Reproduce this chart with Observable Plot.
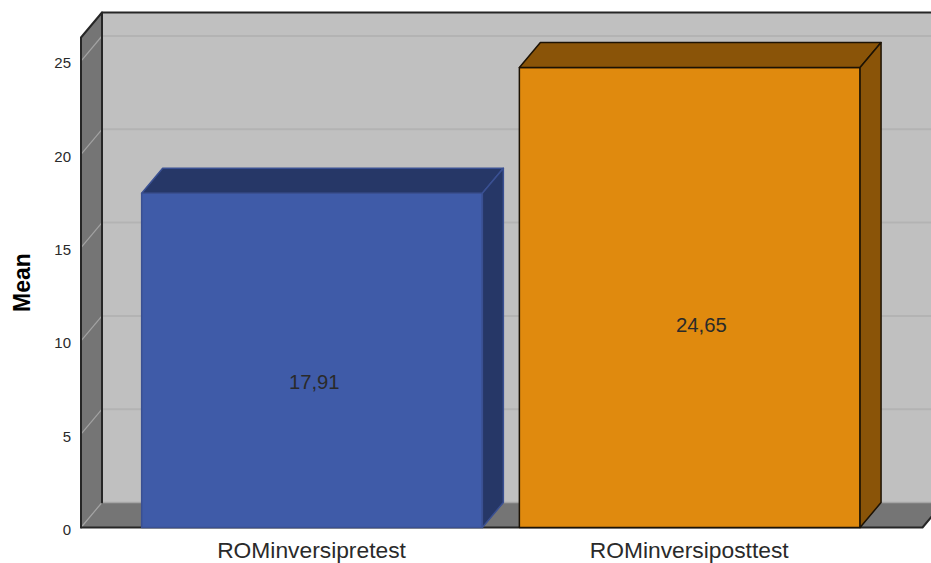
<!DOCTYPE html>
<html>
<head>
<meta charset="utf-8">
<script src="https://cdn.jsdelivr.net/npm/d3@7"></script>
<script src="https://cdn.jsdelivr.net/npm/@observablehq/plot@0.6"></script>
<style>
  html, body { margin: 0; padding: 0; background: #fff; }
  svg { display: block; }
</style>
</head>
<body>
<div id="chart"></div>
<script>
// Mean range of motion, before and after
const categories = ["ROMinversipretest", "ROMinversiposttest"];
const means = [17.91, 24.65];
const yTicks = [0, 5, 10, 15, 20, 25];

// Chart geometry in scale units
const xMin = -0.6116, xMax = 1.6163, yMax = 26.26;
const depthX = 0.0556, depthY = 1.34;
const halfBar = 0.451;
// Data labels sit inside the front face, slightly right of its centre
const labelRise = [0.434, 0.439];
const labelShift = [0.006, 0.031];

const colors = {
  wall: "#757575", back: "#c0c0c0", gridBack: "#b3b3b3", gridSide: "#a3a3a3",
  edge: "#262626", text: "#2a2a2a",
  faces: [
    {front: "#3f5ba8", side: "#263767", stroke: "#3a5092"},
    {front: "#e08a0e", side: "#8a5408", stroke: "#1c1204"}
  ]
};

// A closed flat polygon through the x and y scales
const face = (points, fill, stroke = "none", strokeWidth = 1) =>
  Plot.line(points, {x: "0", y: "1", curve: "linear-closed", fill, stroke, strokeWidth, strokeLinejoin: "round"});
const edge = (points, stroke, strokeWidth = 2) =>
  Plot.line(points, {x: "0", y: "1", stroke, strokeWidth});

const farRight = xMax + depthX;
const barMarks = means.flatMap((v, i) => {
  const l = i - halfBar, r = i + halfBar, c = colors.faces[i];
  return [
    face([[l, 0], [r, 0], [r, v], [l, v]], c.front, c.stroke, 1.5),
    face([[l, v], [r, v], [r + depthX, v + depthY], [l + depthX, v + depthY]], c.side, c.stroke, 1.5),
    face([[r, 0], [r + depthX, depthY], [r + depthX, v + depthY], [r, v]], c.side, c.stroke, 1.5)
  ];
});

const chart = Plot.plot({
  width: 931,
  height: 563,
  marginLeft: 80.5,
  marginRight: 9,
  marginTop: 37,
  marginBottom: 36,
  style: {fontFamily: "'Liberation Sans', Arial, sans-serif", background: "#fff", color: colors.text},
  x: {type: "linear", domain: [xMin, xMax]},
  y: {type: "linear", domain: [0, yMax]},
  marks: [
    // Back wall, side wall and floor
    face([[xMin + depthX, depthY], [farRight, depthY], [farRight, yMax + depthY], [xMin + depthX, yMax + depthY]], colors.back),
    face([[xMin, 0], [xMin + depthX, depthY], [xMin + depthX, yMax + depthY], [xMin, yMax]], colors.wall),
    face([[xMin, 0], [xMax, 0], [farRight, depthY], [xMin + depthX, depthY]], colors.wall),

    // Gridlines on the back wall and their continuation down the side wall
    Plot.ruleY(yTicks.slice(1), {y: (d) => d + depthY, x1: xMin + depthX, x2: farRight, stroke: colors.gridBack, strokeWidth: 2}),
    Plot.ruleY([0], {y: depthY, x1: xMin + depthX, x2: farRight, stroke: "#a6a6a6", strokeWidth: 1.5}),
    Plot.link(yTicks, {x1: xMin, y1: (d) => d, x2: xMin + depthX, y2: (d) => d + depthY, stroke: colors.gridSide, strokeWidth: 1.2}),

    // Outer frame of the box
    edge([[xMin, 0], [xMin, yMax], [xMin + depthX, yMax + depthY], [farRight, yMax + depthY]], colors.edge),
    edge([[xMin + depthX, depthY], [xMin + depthX, yMax + depthY]], colors.edge),
    edge([[xMin, 0], [xMax, 0], [farRight, depthY]], colors.edge),

    ...barMarks,

    Plot.text(means, {
      x: (d, i) => i + labelShift[i],
      y: (d, i) => d * labelRise[i],
      text: (d) => String(d).replace(".", ","),
      fontSize: 20.3,
      fill: colors.text
    }),

    Plot.axisY({ticks: yTicks, tickSize: 0, tickPadding: 10, fontSize: 15, label: null, dy: 2.5, anchor: "left"}),
    Plot.axisX({ticks: [0, 1], tickFormat: (d) => categories[d], tickSize: 0, tickPadding: 14, dx: -0.5, fontSize: 22.8, label: null, anchor: "bottom"}),
    Plot.text(["Mean"], {frameAnchor: "left", textAnchor: "middle", rotate: -90, dx: -58.5, fontSize: 23, fontWeight: "bold", fill: "#000"})
  ]
});
document.getElementById("chart").appendChild(chart);
</script>
</body>
</html>
